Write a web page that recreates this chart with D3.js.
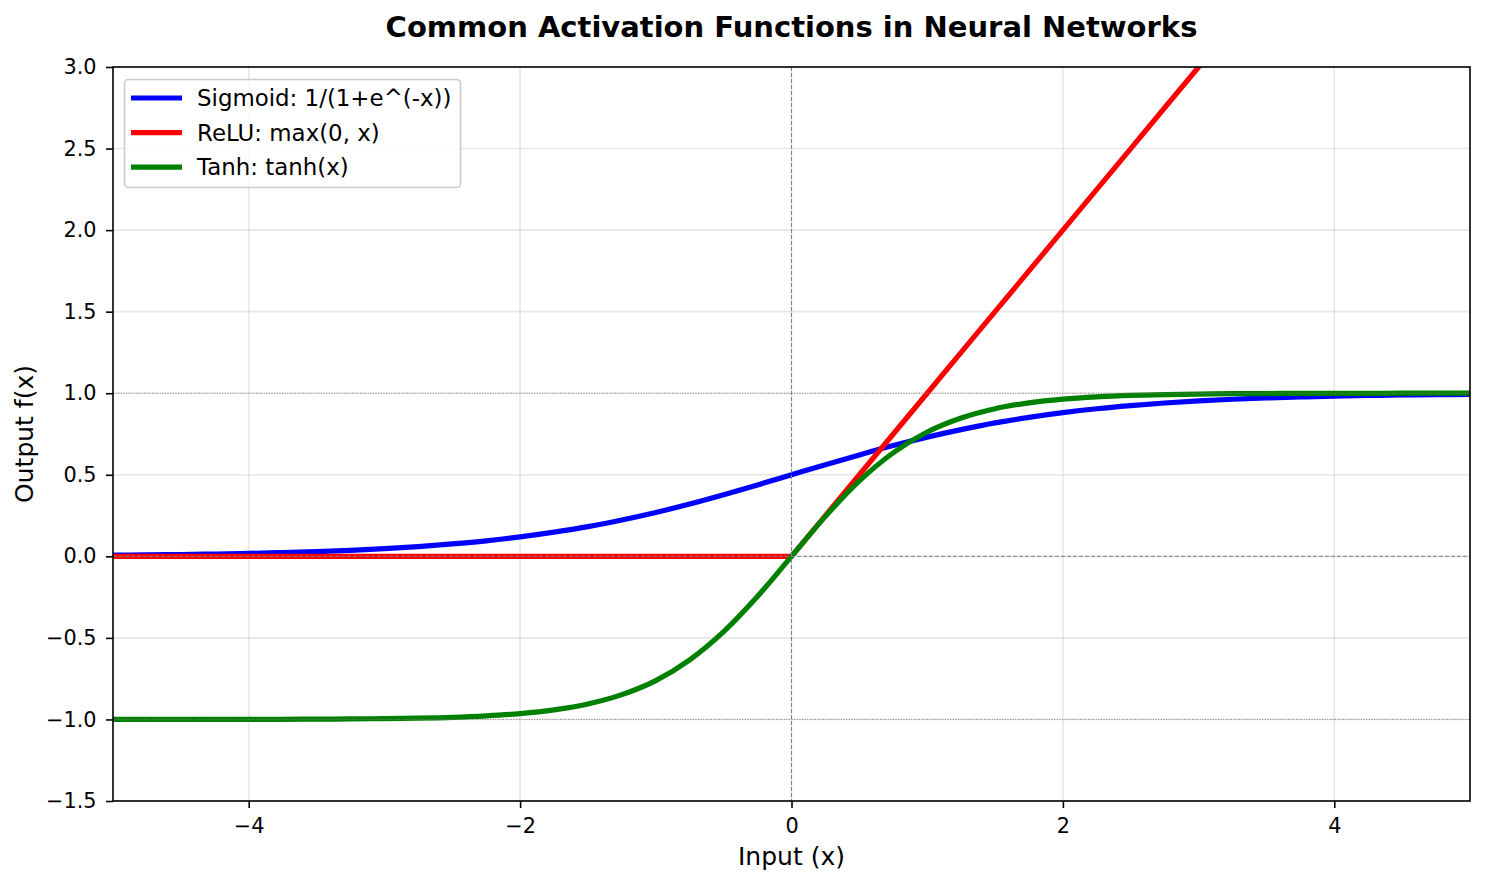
<!DOCTYPE html>
<html lang="en">
	<head>
		<meta charset="utf-8">
		<title>Common Activation Functions in Neural Networks</title>
		<script type="text/javascript" src="https://cdn.jsdelivr.net/npm/d3@7"></script>
		<style type="text/css">
			body { margin: 0; background: #fff; }
			text { font-family: "DejaVu Sans", sans-serif; fill: #000; }
		</style>
	</head>
	<body>
		<script type="text/javascript">

			//Width and height
			var w = 1485;
			var h = 884;
			var margin = { left: 113, right: 15, top: 67, bottom: 83 };

			// values
			var xValues = [-5, -4.75, -4.5, -4.25, -4, -3.75, -3.5, -3.25, -3, -2.75, -2.5, -2.25, -2, -1.75, -1.5, -1.25, -1, -0.75, -0.5, -0.25,
				0, 0.25, 0.5, 0.75, 1, 1.25, 1.5, 1.75, 2, 2.25, 2.5, 2.75, 3, 3.25, 3.5, 3.75, 4, 4.25, 4.5, 4.75, 5];

			var sigmoidValues = [0.007, 0.009, 0.011, 0.014, 0.018, 0.023, 0.029, 0.037, 0.047, 0.060, 0.076, 0.095, 0.119, 0.148, 0.182, 0.223, 0.269, 0.321, 0.378, 0.438,
				0.500, 0.562, 0.622, 0.679, 0.731, 0.777, 0.818, 0.852, 0.881, 0.905, 0.924, 0.940, 0.953, 0.963, 0.971, 0.977, 0.982, 0.986, 0.989, 0.991, 0.993];

			var reluValues = [0, 0, 0, 0, 0, 0, 0, 0, 0, 0, 0, 0, 0, 0, 0, 0, 0, 0, 0, 0,
				0, 0.25, 0.5, 0.75, 1, 1.25, 1.5, 1.75, 2, 2.25, 2.5, 2.75, 3, 3.25, 3.5, 3.75, 4, 4.25, 4.5, 4.75, 5];

			var tanhValues = [-1.000, -1.000, -1.000, -0.999, -0.999, -0.999, -0.998, -0.997, -0.995, -0.992, -0.987, -0.978, -0.964, -0.941, -0.905, -0.848, -0.762, -0.635, -0.462, -0.245,
				0, 0.245, 0.462, 0.635, 0.762, 0.848, 0.905, 0.941, 0.964, 0.978, 0.987, 0.992, 0.995, 0.997, 0.998, 0.999, 0.999, 0.999, 1.000, 1.000, 1.000];

			var seriesNames = ["Sigmoid: 1/(1+e^(-x))", "ReLU: max(0, x)", "Tanh: tanh(x)"];
			var seriesColors = ["#0000ff", "#ff0000", "#008000"];

			var xTicks = [-4, -2, 0, 2, 4];
			var yTicks = [-1.5, -1.0, -0.5, 0.0, 0.5, 1.0, 1.5, 2.0, 2.5, 3.0];

			var svg = d3.select("body")
						.append("svg")
						.attr("width", w)
						.attr("height", h);

			var xScale = d3.scaleLinear()
				.domain([-5, 5])
				.range([margin.left, w - margin.right]);

			var yScale = d3.scaleLinear()
				.domain([-1.5, 3])
				.range([h - margin.bottom, margin.top]);

			svg.append("defs").append("clipPath")
				.attr("id", "plotArea")
				.append("rect")
				.attr("x", margin.left)
				.attr("y", margin.top)
				.attr("width", w - margin.left - margin.right)
				.attr("height", h - margin.top - margin.bottom);

			//grid
			svg.append("g").selectAll("line")
				.data(xTicks)
				.enter()
				.append("line")
				.attr("x1", function(d) { return xScale(d); })
				.attr("x2", function(d) { return xScale(d); })
				.attr("y1", margin.top)
				.attr("y2", h - margin.bottom)
				.attr("stroke", "#b0b0b0")
				.attr("stroke-opacity", 0.3)
				.attr("stroke-width", 1.6);

			svg.append("g").selectAll("line")
				.data(yTicks)
				.enter()
				.append("line")
				.attr("x1", margin.left)
				.attr("x2", w - margin.right)
				.attr("y1", function(d) { return yScale(d); })
				.attr("y2", function(d) { return yScale(d); })
				.attr("stroke", "#b0b0b0")
				.attr("stroke-opacity", 0.3)
				.attr("stroke-width", 1.6);

			//lines
			var allSeries = [sigmoidValues, reluValues, tanhValues];
			var smoothLine = d3.line()
				.x(function(d, i) { return xScale(xValues[i]); })
				.y(function(d) { return yScale(d); })
				.curve(d3.curveMonotoneX);
			var straightLine = d3.line()
				.x(function(d, i) { return xScale(xValues[i]); })
				.y(function(d) { return yScale(d); });

			var plot = svg.append("g").attr("clip-path", "url(#plotArea)");

			allSeries.forEach(function(vals, i) {
				plot.append("path")
					.datum(vals)
					.attr("d", i == 1 ? straightLine : smoothLine)
					.attr("fill", "none")
					.attr("stroke", seriesColors[i])
					.attr("stroke-width", 5.2)
					.attr("stroke-linejoin", "round")
					.attr("stroke-linecap", "butt");
			});

			//reference lines
			[0].forEach(function(v) {
				plot.append("line")
					.attr("x1", margin.left).attr("x2", w - margin.right)
					.attr("y1", yScale(v)).attr("y2", yScale(v))
					.attr("stroke", "#808080").attr("stroke-width", 1)
					.attr("stroke-dasharray", "4,2");
				plot.append("line")
					.attr("x1", xScale(v)).attr("x2", xScale(v))
					.attr("y1", margin.top).attr("y2", h - margin.bottom)
					.attr("stroke", "#808080").attr("stroke-width", 1)
					.attr("stroke-dasharray", "4,2");
			});
			[1, -1].forEach(function(v) {
				plot.append("line")
					.attr("x1", margin.left).attr("x2", w - margin.right)
					.attr("y1", yScale(v)).attr("y2", yScale(v))
					.attr("stroke", "#808080").attr("stroke-width", 1)
					.attr("stroke-dasharray", "1,1.6");
			});

			//axes
			var xAxis = d3.axisBottom(xScale)
				.tickValues(xTicks)
				.tickSize(7)
				.tickPadding(10)
				.tickFormat(d3.format("d"));

			var yAxis = d3.axisLeft(yScale)
				.tickValues(yTicks)
				.tickSize(7)
				.tickPadding(9.5)
				.tickFormat(d3.format(".1f"));

			var gx = svg.append("g")
				.attr("transform", "translate(0," + (h - margin.bottom) + ")")
				.call(xAxis);
			var gy = svg.append("g")
				.attr("transform", "translate(" + margin.left + ",0)")
				.call(yAxis);

			[gx, gy].forEach(function(g) {
				g.select(".domain").remove();
				g.selectAll(".tick line").attr("stroke", "#000").attr("stroke-width", 1.6);
				g.selectAll(".tick text").style("font-size", "20.8px").attr("fill", "#000");
			});

			//frame
			svg.append("rect")
				.attr("x", margin.left)
				.attr("y", margin.top)
				.attr("width", w - margin.left - margin.right)
				.attr("height", h - margin.top - margin.bottom)
				.attr("fill", "none")
				.attr("stroke", "#000")
				.attr("stroke-width", 1.6);

			//legend
			var legend = svg.append("g");
			legend.append("rect")
				.attr("x", 124.5)
				.attr("y", 79.5)
				.attr("width", 336)
				.attr("height", 108)
				.attr("rx", 4)
				.attr("fill", "#fff")
				.attr("fill-opacity", 0.8)
				.attr("stroke", "#cccccc")
				.attr("stroke-width", 1.6);

			seriesNames.forEach(function(name, i) {
				var y = 98 + i * 34.6;
				legend.append("line")
					.attr("x1", 131).attr("x2", 182)
					.attr("y1", y).attr("y2", y)
					.attr("stroke", seriesColors[i])
					.attr("stroke-width", 5.2);
				legend.append("text")
					.attr("x", 197)
					.attr("y", y)
					.attr("dy", "0.35em")
					.style("font-size", "22.9px")
					.text(name);
			});

			//titles
			svg.append("text")
				.attr("x", (margin.left + w - margin.right) / 2)
				.attr("y", 37)
				.attr("text-anchor", "middle")
				.style("font-size", "29px")
				.style("font-weight", "bold")
				.text("Common Activation Functions in Neural Networks");

			svg.append("text")
				.attr("x", (margin.left + w - margin.right) / 2)
				.attr("y", 865)
				.attr("text-anchor", "middle")
				.style("font-size", "25px")
				.text("Input (x)");

			svg.append("text")
				.attr("transform", "translate(33," + (margin.top + h - margin.bottom) / 2 + ") rotate(-90)")
				.attr("text-anchor", "middle")
				.style("font-size", "25px")
				.text("Output f(x)");

		</script>
	</body>
</html>
